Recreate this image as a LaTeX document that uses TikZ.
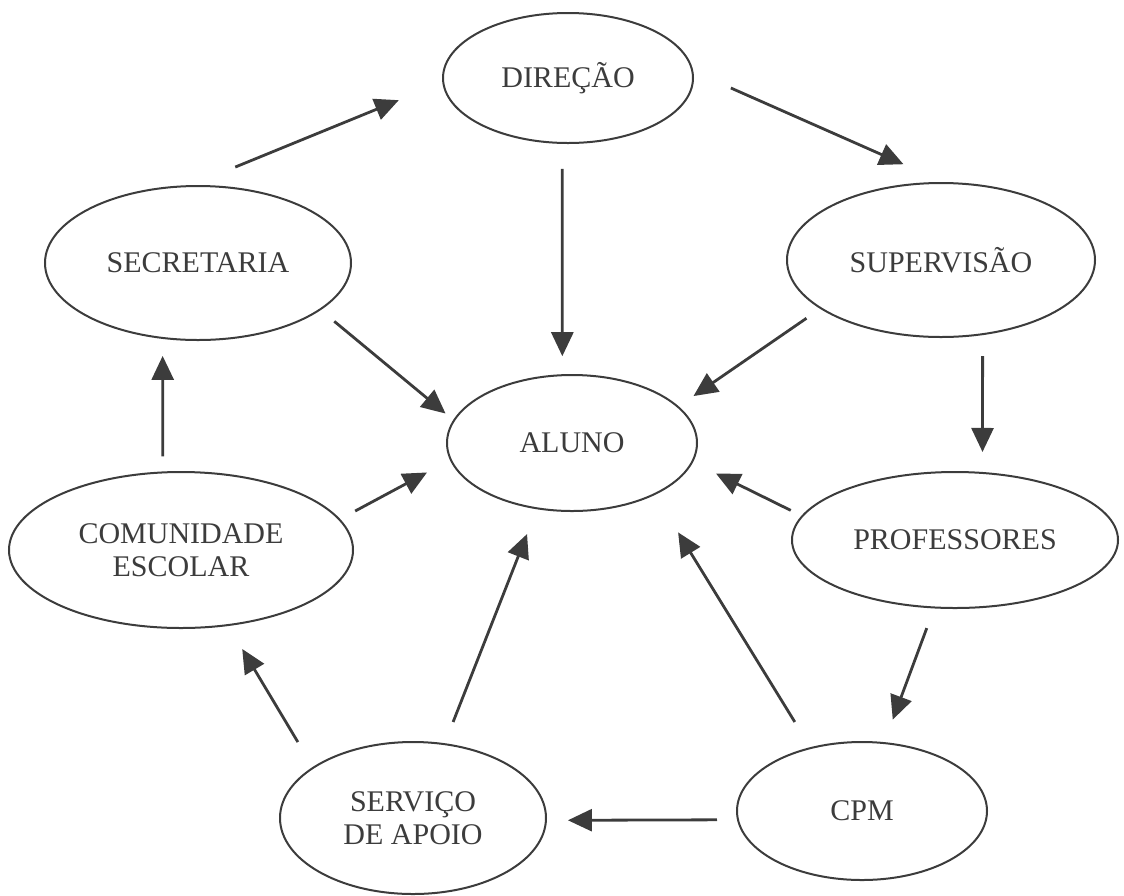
\documentclass[tikz,border=0pt]{standalone}
\usepackage{fontspec}
\setmainfont{Liberation Serif}
\usetikzlibrary{arrows.meta,shapes.geometric}
\definecolor{ink}{HTML}{3C3C3C}

\begin{document}
\begin{tikzpicture}[x=0.5pt,y=-0.5pt,>={Triangle[length=12pt,width=11pt]},
  box/.style={ellipse,draw=ink,line width=1pt,text=ink,inner sep=0pt,align=center,
    font=\fontsize{15}{16.5}\selectfont},
  link/.style={->,draw=ink,line width=1.4pt}]
\useasboundingbox (0,0) rectangle (1124,895);
\node[box,minimum width=125pt,minimum height=65pt] (dir) at (568,78) {DIREÇÃO};
\node[box,minimum width=153pt,minimum height=77pt] (sec) at (198,263) {SECRETARIA};
\node[box,minimum width=154pt,minimum height=77pt] (sup) at (941,260) {SUPERVISÃO};
\node[box,minimum width=125pt,minimum height=68pt] (alu) at (572,443) {ALUNO};
\node[box,minimum width=172pt,minimum height=78pt] (com) at (181,550) {COMUNIDADE\\ESCOLAR};
\node[box,minimum width=163pt,minimum height=68pt] (pro) at (955,540) {PROFESSORES};
\node[box,minimum width=133pt,minimum height=76pt] (ser) at (413,818) {SERVIÇO\\DE APOIO};
\node[box,minimum width=125pt,minimum height=69pt] (cpm) at (862,811) {CPM};
\draw[link,shorten <=23.8pt,shorten >=23.5pt] (sec.95) -- (dir.182);
\draw[link,shorten <=20.5pt,shorten >=22pt] (dir.3) -- (sup.88);
\draw[link,shorten <=12.5pt,shorten >=9pt] (dir.265) -- (alu.98);
\draw[link,shorten <=8.8pt,shorten >=5pt] (sec.339) -- (alu.169);
\draw[link,shorten <=8.3pt,shorten >=9pt] (sup.202) -- (alu.19);
\draw[link,shorten <=10.5pt,shorten >=10pt] (sup.299) -- (pro.68);
\draw[link,shorten <=7.5pt,shorten >=8.5pt] (com.103) -- (sec.245);
\draw[link,shorten <=8.5pt,shorten >=13pt] (com.11) -- (alu.188);
\draw[link,shorten <=6pt,shorten >=12.8pt] (pro.171) -- (alu.351);
\draw[link,shorten <=10.5pt,shorten >=12pt] (pro.253) -- (cpm.72);
\draw[link,shorten <=14.8pt,shorten >=22pt] (cpm.129) -- (alu.328);
\draw[link,shorten <=11.4pt,shorten >=13.3pt] (ser.67) -- (alu.242);
\draw[link,shorten <=14.5pt,shorten >=13.4pt] (ser.153) -- (com.302);
\draw[link,shorten <=10pt,shorten >=10.5pt] (cpm.184) -- (ser.359);
\end{tikzpicture}
\end{document}
